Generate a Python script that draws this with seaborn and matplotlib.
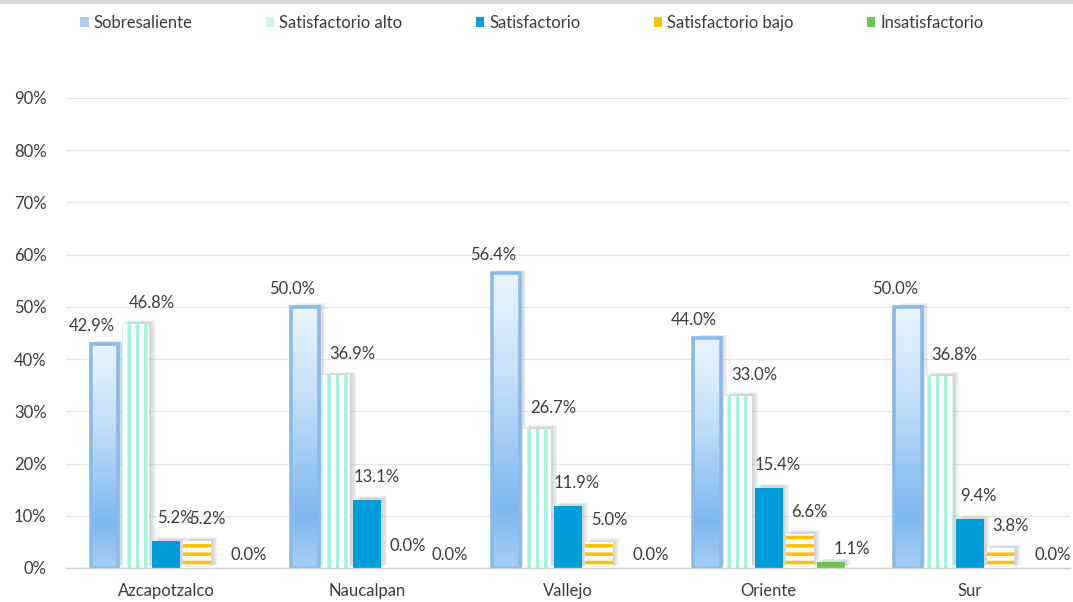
import numpy as np
import pandas as pd
import matplotlib
matplotlib.use("Agg")
import matplotlib.pyplot as plt
import matplotlib.patheffects as pe
import seaborn as sns
from matplotlib.patches import Rectangle, Patch
from matplotlib.colors import LinearSegmentedColormap

# ---- data -------------------------------------------------------------
planteles = ["Azcapotzalco", "Naucalpan", "Vallejo", "Oriente", "Sur"]
niveles = ["Sobresaliente", "Satisfactorio alto", "Satisfactorio",
           "Satisfactorio bajo", "Insatisfactorio"]
sobresaliente = [42.9, 50.0, 56.4, 44.0, 50.0]
satisfactorio_alto = [46.8, 36.9, 26.7, 33.0, 36.8]
satisfactorio = [5.2, 13.1, 11.9, 15.4, 9.4]
satisfactorio_bajo = [5.2, 0.0, 5.0, 6.6, 3.8]
insatisfactorio = [0.0, 0.0, 0.0, 1.1, 0.0]
y_ticks = [0, 10, 20, 30, 40, 50, 60, 70, 80, 90]

series = [sobresaliente, satisfactorio_alto, satisfactorio,
          satisfactorio_bajo, insatisfactorio]

df = pd.DataFrame({
    "plantel": planteles * len(niveles),
    "nivel": [n for n in niveles for _ in planteles],
    "valor": [v for s in series for v in s],
})

# ---- style ------------------------------------------------------------
sns.set_theme(style="white")
plt.rcParams["font.family"] = ["Lato", "DejaVu Sans"]
plt.rcParams["hatch.linewidth"] = 2.5

TEXT = "#3a3a3a"
AQUA = "#9ff3df"
BLUE = "#009DDB"
YELLOW = "#FFC000"
GREEN = "#70C153"
palette = {"Sobresaliente": "#a9cff3", "Satisfactorio alto": "white",
           "Satisfactorio": BLUE, "Satisfactorio bajo": "white",
           "Insatisfactorio": GREEN}


class BarShadow(pe.SimplePatchShadow):
    """Drop shadow layer that ignores any hatch on the bar."""
    def draw_path(self, renderer, gc, tpath, affine, rgbFace):
        gc0 = renderer.new_gc()
        gc0.copy_properties(gc)
        gc0.set_hatch(None)
        super().draw_path(renderer, gc0, tpath, affine, rgbFace)


# a few stacked translucent layers give a soft-edged shadow
shadow = [BarShadow(offset=off, shadow_rgbFace="#808080", alpha=0.09)
          for off in [(4.5, 2.5), (3.5, 2.0), (2.5, 1.5), (1.5, 1.0)]]
shadow.append(pe.Normal())

fig = plt.figure(figsize=(10.73, 6.02), dpi=100)
ax = fig.add_axes([66 / 1073, 1 - 568 / 602, (1070 - 66) / 1073, (568 - 98) / 602])

sns.barplot(data=df, x="plantel", y="valor", hue="nivel", order=planteles,
            hue_order=niveles, palette=palette, saturation=1, width=0.77,
            gap=0.1, errorbar=None, legend=False, ax=ax, zorder=3)

xlim = ax.get_xlim()

# gradient for the "Sobresaliente" bars
grad_cmap = LinearSegmentedColormap.from_list(
    "sobresaliente", [(0.0, "#eaf4fe"), (0.35, "#c4e0fa"), (0.8, "#7cb8ef"),
                      (1.0, "#a6cff5")])
gradient = grad_cmap(np.linspace(0, 1, 256))[:, None, :3]

for i, cont in enumerate(ax.containers):
    for bar in cont:
        bar.set_path_effects(shadow)
        if i == 0:
            bar.set_facecolor("white")
            bar.set_linewidth(0)
            x0, w, h = bar.get_x(), bar.get_width(), bar.get_height()
            ax.imshow(gradient, extent=[x0, x0 + w, 0, h], aspect="auto",
                      origin="upper", zorder=3.2, interpolation="bilinear")
            ax.add_patch(Rectangle((x0, 0), w, h, facecolor="none",
                                   edgecolor="#8bb9ea", linewidth=2.6,
                                   zorder=3.4))
        elif i == 1:
            bar.set_facecolor("white")
            bar.set_edgecolor(AQUA)
            bar.set_hatch("||")
            bar.set_linewidth(0)
        elif i == 3:
            bar.set_facecolor("white")
            bar.set_edgecolor(YELLOW)
            bar.set_hatch("--")
            bar.set_linewidth(0)
        else:
            bar.set_linewidth(0)

# value labels
label_dx = [-13, 16, 9, 10, 21]
label_dy = [18, 21, 23, 22, 13]
for i, (cont, vals) in enumerate(zip(ax.containers, series)):
    for bar, v in zip(cont, vals):
        xc = bar.get_x() + bar.get_width() / 2
        ax.annotate(f"{v:.1f}%", xy=(xc, v), xytext=(label_dx[i], label_dy[i]),
                    textcoords="offset pixels", ha="center", va="center",
                    fontsize=12, color=TEXT, zorder=5, annotation_clip=False)

ax.set_xlim(xlim)
ax.set_ylim(0, 90)
ax.set_yticks(y_ticks)
ax.set_yticklabels([f"{t}%" for t in y_ticks])
ax.set_xlabel("")
ax.set_ylabel("")
ax.tick_params(axis="both", length=0, labelsize=12, labelcolor=TEXT)
ax.tick_params(axis="y", pad=14)
ax.tick_params(axis="x", pad=11)
ax.yaxis.grid(True, color="#e6e6e6", linewidth=1)
ax.set_axisbelow(True)
for side in ["left", "right", "top"]:
    ax.spines[side].set_visible(False)
ax.spines["bottom"].set_color("#d0d0d0")
ax.spines["bottom"].set_linewidth(1)
ax.spines["bottom"].set_zorder(4)

# legend
handles = [Patch(facecolor="#a9cff3", edgecolor="none"),
           Patch(facecolor="#c8f8eb", edgecolor="none"),
           Patch(facecolor=BLUE, edgecolor="none"),
           Patch(facecolor=YELLOW, edgecolor="none"),
           Patch(facecolor=GREEN, edgecolor="none")]
fig.legend(handles, niveles, loc="center left", bbox_to_anchor=(0.075, 1 - 23 / 602),
           ncol=5, frameon=False, fontsize=12, labelcolor=TEXT,
           handlelength=0.5, handleheight=0.6, handletextpad=0.3,
           columnspacing=4.4, borderaxespad=0, borderpad=0)

# thin grey band along the top edge
fig.add_artist(Rectangle((0, 1 - 4 / 602), 1, 4 / 602, transform=fig.transFigure,
                         facecolor="#d9d9d9", edgecolor="none"))

fig.savefig("out.png", dpi=100)
